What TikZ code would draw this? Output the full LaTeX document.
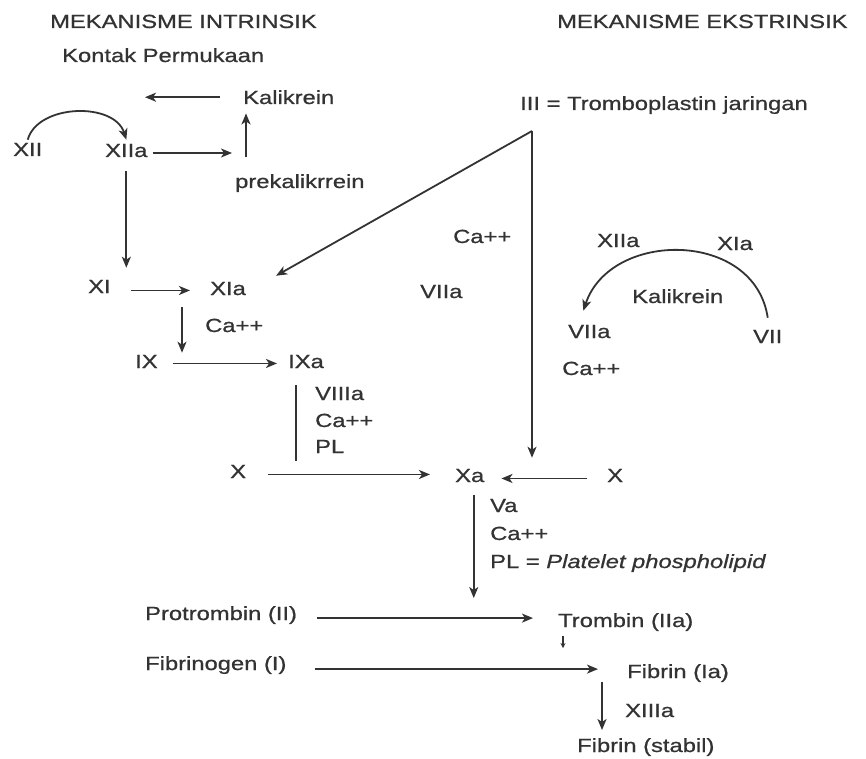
\documentclass[tikz,border=0pt]{standalone}
\usepackage{fontspec}
\setmainfont{Liberation Sans}[FakeStretch=1.25,FakeBold=0.8]
\usetikzlibrary{arrows.meta}
\definecolor{ink}{HTML}{333333}
\begin{document}
\begin{tikzpicture}[x=1pt,y=-1pt,
  lbl/.style={anchor=base west,inner sep=0pt,text=ink,font=\fontsize{19}{22}\selectfont},
  arr/.style={draw=ink,line width=1.8pt,-{Stealth[length=11pt,width=9pt,inset=3pt]}},
  ln/.style={draw=ink,line width=1.8pt},
  smallarr/.style={draw=ink,line width=1.2pt,-{Stealth[length=5pt,width=5pt]}}]
\useasboundingbox[fill=white] (0,0) rectangle (866,759);
% headings
\node[lbl] (h1) at (50,28) {MEKANISME INTRINSIK};
\node[lbl] (h2) at (557,28) {MEKANISME EKSTRINSIK};
\node[lbl] (kontak) at (62,62) {Kontak Permukaan};
% intrinsic
\node[lbl] (Kal) at (243,104) {Kalikrein};
\node[lbl] (XII) at (13,156) {XII};
\node[lbl] (XIIa) at (105,157) {XIIa};
\node[lbl] (pre) at (235,188) {prekalikrrein};
\node[lbl] (XI) at (88,293) {XI};
\node[lbl] (XIa) at (210,295) {XIa};
\node[lbl] (Ca1) at (205,332) {Ca++};
\node[lbl] (IX) at (135,368) {IX};
\node[lbl] (IXa) at (288,368) {IXa};
\node[lbl] (VIIIa) at (315,400) {VIIIa};
\node[lbl] (Ca2) at (315,427) {Ca++};
\node[lbl] (PL) at (315,453) {PL};
\node[lbl] (X) at (230,478) {X};
\node[lbl] (Xa) at (455,482) {Xa};
\node[lbl] (Xr) at (607,482) {X};
% extrinsic
\node[lbl] (III) at (520,110) {III = Tromboplastin jaringan};
\node[lbl] (CaM) at (453,243) {Ca++};
\node[lbl] (VIIaM) at (420,298) {VIIa};
\node[lbl] (XIIaE) at (597,247) {XIIa};
\node[lbl] (XIaE) at (717,250) {XIa};
\node[lbl] (KalE) at (632,303) {Kalikrein};
\node[lbl] (VIIaE) at (568,338) {VIIa};
\node[lbl] (VIIE) at (753,343) {VII};
\node[lbl] (CaE) at (562,375) {Ca++};
% common
\node[lbl] (Va) at (490,512) {Va};
\node[lbl] (CaV) at (490,540) {Ca++};
\node[lbl] (PLV) at (490,568) {PL = \textit{Platelet phospholipid}};
\node[lbl] (Prot) at (145,620) {Protrombin (II)};
\node[lbl] (Trom) at (558,627) {Trombin (IIa)};
\node[lbl] (Fg) at (145,670) {Fibrinogen (I)};
\node[lbl] (Fib) at (627,678) {Fibrin (Ia)};
\node[lbl] (XIIIa) at (625,717) {XIIIa};
\node[lbl] (stabil) at (577,752) {Fibrin (stabil)};
% connectors
\coordinate (kalend) at (145,98);
\coordinate (preend) at (232,153);
\coordinate (top) at (532,131);
\draw[arr] ([yshift=3pt]XII.north) .. controls +(10,-36) and +(-12,-38) .. ([yshift=4pt]XIIa.north);
\draw[arr] ([xshift=-23pt]Kal.west) -- (Kal.west -| kalend);
\draw[arr] ([xshift=11pt,yshift=17pt]pre.north west) -- ([xshift=3pt,yshift=-9pt]Kal.south west);
\draw[arr] ([xshift=5pt]XIIa.east |- preend) -- (preend);
\draw[arr] ([yshift=-14pt]XIIa.south) -- ([yshift=12pt]XIIa.south |- XI.north);
\draw[arr] ([xshift=20pt,yshift=-4pt]XI.east) coordinate (a1) -- ([xshift=-20pt]XIa.west |- a1);
\draw[arr] (top) -- ([xshift=30pt,yshift=6pt]XIa.north east);
\draw[arr] (top) -- ([yshift=11pt]top |- Xa.north);
\draw[arr] ([xshift=-28pt,yshift=-12pt]XIa.south west) coordinate (t1) -- ([yshift=2pt]t1 |- IX.north);
\draw[arr] ([xshift=15pt,yshift=-2pt]IX.east) coordinate (a2) -- ([xshift=-11pt]IXa.west |- a2);
\draw[ln] ([xshift=8pt,yshift=-17pt]IXa.south west) coordinate (t2) -- ([yshift=4pt]t2 |- X.north);
\draw[arr] ([xshift=22pt,yshift=-3pt]X.east) coordinate (a3) -- ([xshift=-25pt]Xa.west |- a3);
\draw[arr] ([xshift=-20pt,yshift=-3pt]Xr.west) coordinate (a4) -- ([xshift=17pt]Xa.east |- a4);
\draw[arr] ([xshift=4pt,yshift=-13pt]Xa.south) coordinate (t3) -- ([yshift=15pt]t3 |- Trom.north);
\draw[arr] ([xshift=20pt,yshift=-3pt]Prot.east) coordinate (a5) -- ([xshift=-25pt]Trom.west |- a5);
\draw[smallarr] ([xshift=5pt,yshift=-5pt]Trom.south west) coordinate (t4) -- ([yshift=16pt]t4 |- Fib.north);
\draw[arr] ([xshift=28pt,yshift=-4pt]Fg.east) coordinate (a6) -- ([xshift=-29pt]Fib.west |- a6);
\draw[arr] ([xshift=-25pt]Fib.south west) coordinate (t5) -- ([yshift=8pt]t5 |- stabil.north);
\draw[arr] ([yshift=12pt]VIIE.north) .. controls +(-13,-88) and +(27,-81) .. ([xshift=-6pt,yshift=14pt]VIIaE.north);
\end{tikzpicture}
\end{document}
